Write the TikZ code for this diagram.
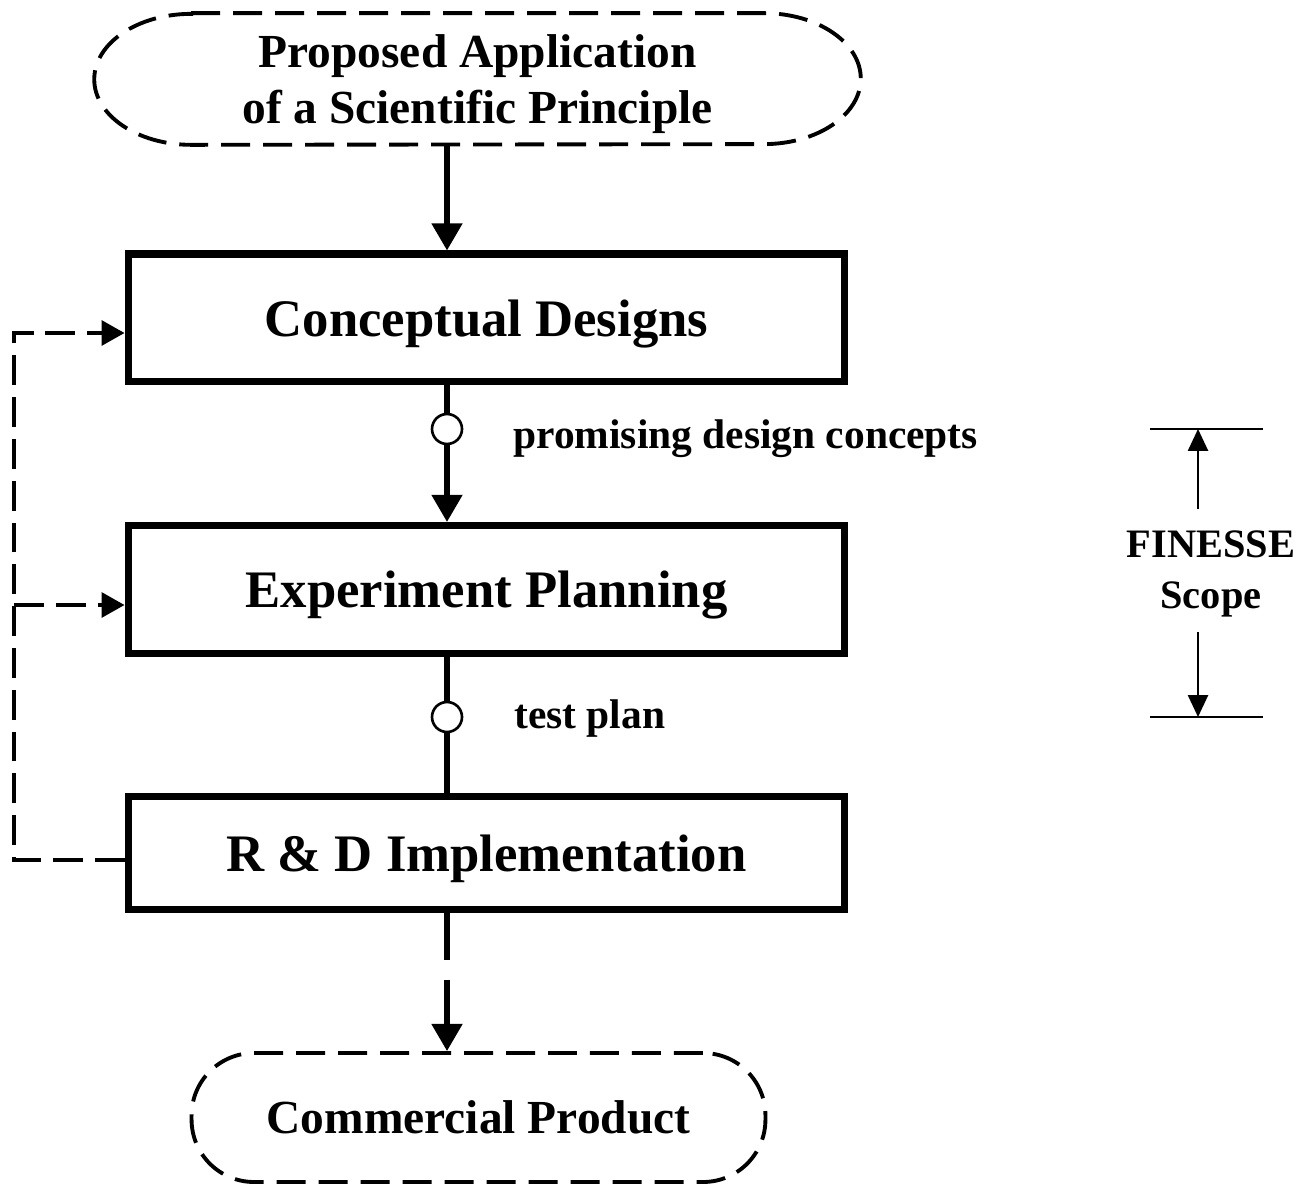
\documentclass[tikz,border=0pt]{standalone}
\usepackage{fontspec}
\setmainfont{Liberation Serif}
\usetikzlibrary{arrows.meta,calc}

\begin{document}
\begin{tikzpicture}[x=0.02cm, y=-0.02cm,
  stage/.style={draw, line width=4pt, minimum width=14.34cm, text depth=0pt, font=\fontsize{30}{36}\selectfont\bfseries},
  endtext/.style={align=center, font=\fontsize{27}{31.75}\selectfont\bfseries},
  outline/.style={line width=2.2pt, dash pattern=on 16.5pt off 7.4pt},
  link/.style={line width=3.2pt},
  flow/.style={link, -{Triangle[length=15.5pt, width=17pt]}},
  feedback/.style={line width=2.2pt, dash pattern=on 17pt off 6.8pt, -{Triangle[length=13pt, width=14pt]}},
  gate/.style={circle, draw, line width=1.5pt, fill=white, minimum size=0.6cm, inner sep=0pt},
  note/.style={font=\fontsize{23.6}{28}\selectfont\bfseries, anchor=base west, inner sep=0pt},
  span/.style={line width=1pt, -{Triangle[length=12.5pt, width=11.5pt]}}]
\useasboundingbox (0,0) rectangle (1310,1185);

% Stages
\node[endtext, text depth=0pt, minimum width=15.32cm, minimum height=2.62cm] (idea) at (477.5,79) {Proposed Application\\of a Scientific Principle};
\node[stage, minimum height=2.55cm] (concept) at (486.5,317.75) {Conceptual Designs};
\node[stage, minimum height=2.56cm] (planning) at (486.5,589.5) {Experiment Planning};
\node[stage, minimum height=2.25cm] (rnd) at (486.5,853) {R \& D Implementation};
\node[endtext, draw, outline, rounded corners=1.25cm, minimum width=11.48cm, minimum height=2.58cm] (product) at (478.5,1117.5) {Commercial Product};
\draw[outline] ($(idea.north west)+(97,0)$) -- ($(idea.north east)+(-97,0)$)
  arc[start angle=90, end angle=-90, x radius=1.94cm, y radius=1.31cm]
  -- ($(idea.south west)+(97,0)$)
  arc[start angle=270, end angle=90, x radius=1.94cm, y radius=1.31cm] -- cycle;

% Main flow
\node[gate] (g1) at (447,429) {};
\node[gate] (g2) at (447,717) {};
\draw[flow] (idea.south -| g1) -- (concept.north -| g1);
\draw[link] (concept.south -| g1) -- (g1);
\draw[flow] (g1) -- (planning.north -| g1);
\draw[link] (planning.south -| g2) -- (g2) -- (rnd.north -| g2);
\draw[flow, dash pattern=on 27pt off 11pt] (rnd.south -| g2) -- (product.north -| g2);
\node[note] (promising) at (513,448) {promising design concepts};
\node[note] (plan) at (514,728) {test plan};

% Feedback loop
\coordinate (f1) at (14,333);
\coordinate (f2) at (14,605);
\coordinate (f3) at (14,860);
\draw[feedback] (rnd.west |- f3) -- (f3) -- (f1) -- (concept.west |- f1);
\draw[feedback] (f2) -- (planning.west |- f2);

% Scope
\coordinate (b1) at (1198,429);
\coordinate (b2) at (1198,717);
\coordinate (a1) at (1198,509);
\coordinate (a2) at (1198,632);
\draw[line width=1pt] ($(b1)+(-48,0)$) -- ($(b1)+(65,0)$);
\draw[line width=1pt] ($(b2)+(-48,0)$) -- ($(b2)+(65,0)$);
\draw[span] (a1) -- (b1);
\draw[span] (a2) -- (b2);
\node[align=center, font=\fontsize{23}{29}\selectfont\bfseries] (scope) at (1211,574) {FINESSE\\Scope};
\end{tikzpicture}
\end{document}
